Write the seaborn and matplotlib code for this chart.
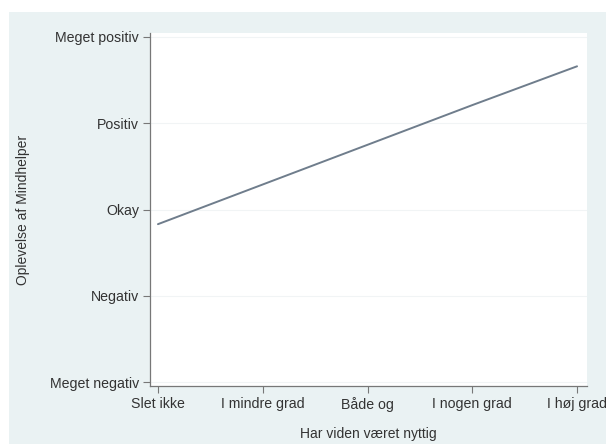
import matplotlib
matplotlib.use("Agg")
import matplotlib.pyplot as plt
import seaborn as sns
import pandas as pd
from matplotlib.patches import Rectangle

x_labels = ["Slet ikke", "I mindre grad", "Både og", "I nogen grad", "I høj grad"]
y_labels = ["Meget negativ", "Negativ", "Okay", "Positiv", "Meget positiv"]
x_vals = [1, 2, 3, 4, 5]
fitted = [2.83, 3.29, 3.75, 4.21, 4.66]

sns.set_theme(style="white")
plt.rcParams["font.family"] = ["Liberation Sans", "DejaVu Sans"]

bg = "#eaf2f3"
fig = plt.figure(figsize=(6.06, 4.44), dpi=100, facecolor="white")
fig.patches.append(Rectangle((9 / 606, 0), 1, 1 - 12 / 444, transform=fig.transFigure,
                             facecolor=bg, edgecolor="none", zorder=-10))
ax = fig.add_axes([150 / 606, 1 - 386 / 444, (587 - 150) / 606, (386 - 33) / 444])
ax.set_facecolor("white")

df = pd.DataFrame({"x": x_vals, "y": fitted})
sns.lineplot(data=df, x="x", y="y", ax=ax, color="#6f7d8c", linewidth=1.4)

ax.set_xlim(0.924, 5.095)
ax.set_ylim(0.954, 5.046)
ax.set_xticks(x_vals)
ax.set_xticklabels(x_labels)
ax.set_yticks([1, 2, 3, 4, 5])
ax.set_yticklabels(y_labels)
for yv in [1, 2, 3, 4, 5]:
    ax.axhline(yv, color="#f1f4f5", linewidth=0.8, zorder=0)

for s in ["top", "right"]:
    ax.spines[s].set_visible(False)
for s in ["left", "bottom"]:
    ax.spines[s].set_color("#777777")
    ax.spines[s].set_linewidth(0.9)
ax.tick_params(axis="both", which="both", direction="out", length=5, width=0.8,
               color="#777777", labelsize=10.2, labelcolor="#333333", pad=3,
               bottom=True, left=True)
ax.set_xlabel("Har viden været nyttig", fontsize=10, color="#333333", labelpad=11)
ax.set_ylabel("Oplevelse af Mindhelper", fontsize=10, color="#333333", labelpad=14)

fig.savefig("out.png", dpi=100, facecolor="white")
